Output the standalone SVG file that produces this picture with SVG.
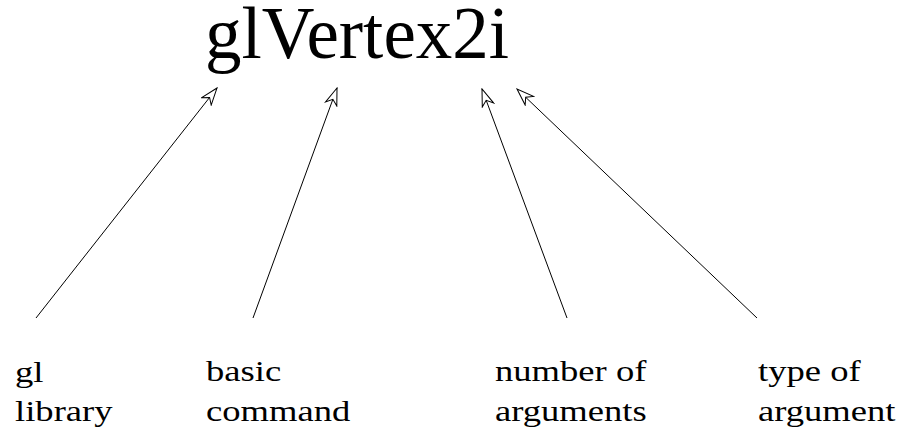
<svg xmlns="http://www.w3.org/2000/svg" width="902" height="437" viewBox="0 0 902 437">
<defs>
<marker id="ah" viewBox="-1 -7 19 14" refX="17" refY="0" markerWidth="19" markerHeight="14" markerUnits="userSpaceOnUse" orient="auto">
<path d="M17,0 L0,-6 L5,0 L0,6 Z" fill="#fff" stroke="#000" stroke-width="1" stroke-linejoin="miter"/>
</marker>
</defs>
<style>
text{font-family:"Liberation Serif","Times New Roman",serif;fill:#000}
.t{font-size:73px}
.l{font-size:30px}
.c{stroke:#000;stroke-width:1;fill:none;marker-end:url(#ah)}
</style>
<rect width="902" height="437" fill="#fff"/>
<g id="title"><text class="t" x="205" y="58">glVertex2i</text></g>
<g id="connectors">
<line class="c" x1="36" y1="318" x2="217" y2="88"/>
<line class="c" x1="253" y1="318" x2="337" y2="88"/>
<line class="c" x1="567" y1="318" x2="482" y2="89"/>
<line class="c" x1="757" y1="318" x2="517" y2="89"/>
</g>
<g id="n1" transform="translate(15 0) scale(1.22 1)"><text class="l" x="0" y="382">gl</text><text class="l" x="0" y="421">library</text></g>
<g id="n2" transform="translate(206 0) scale(1.22 1)"><text class="l" x="0" y="381">basic</text><text class="l" x="0" y="421">command</text></g>
<g id="n3" transform="translate(495 0) scale(1.22 1)"><text class="l" x="0" y="381">number of</text><text class="l" x="0" y="421">arguments</text></g>
<g id="n4" transform="translate(758 0) scale(1.22 1)"><text class="l" x="0" y="381">type of</text><text class="l" x="0" y="421">argument</text></g>
</svg>
